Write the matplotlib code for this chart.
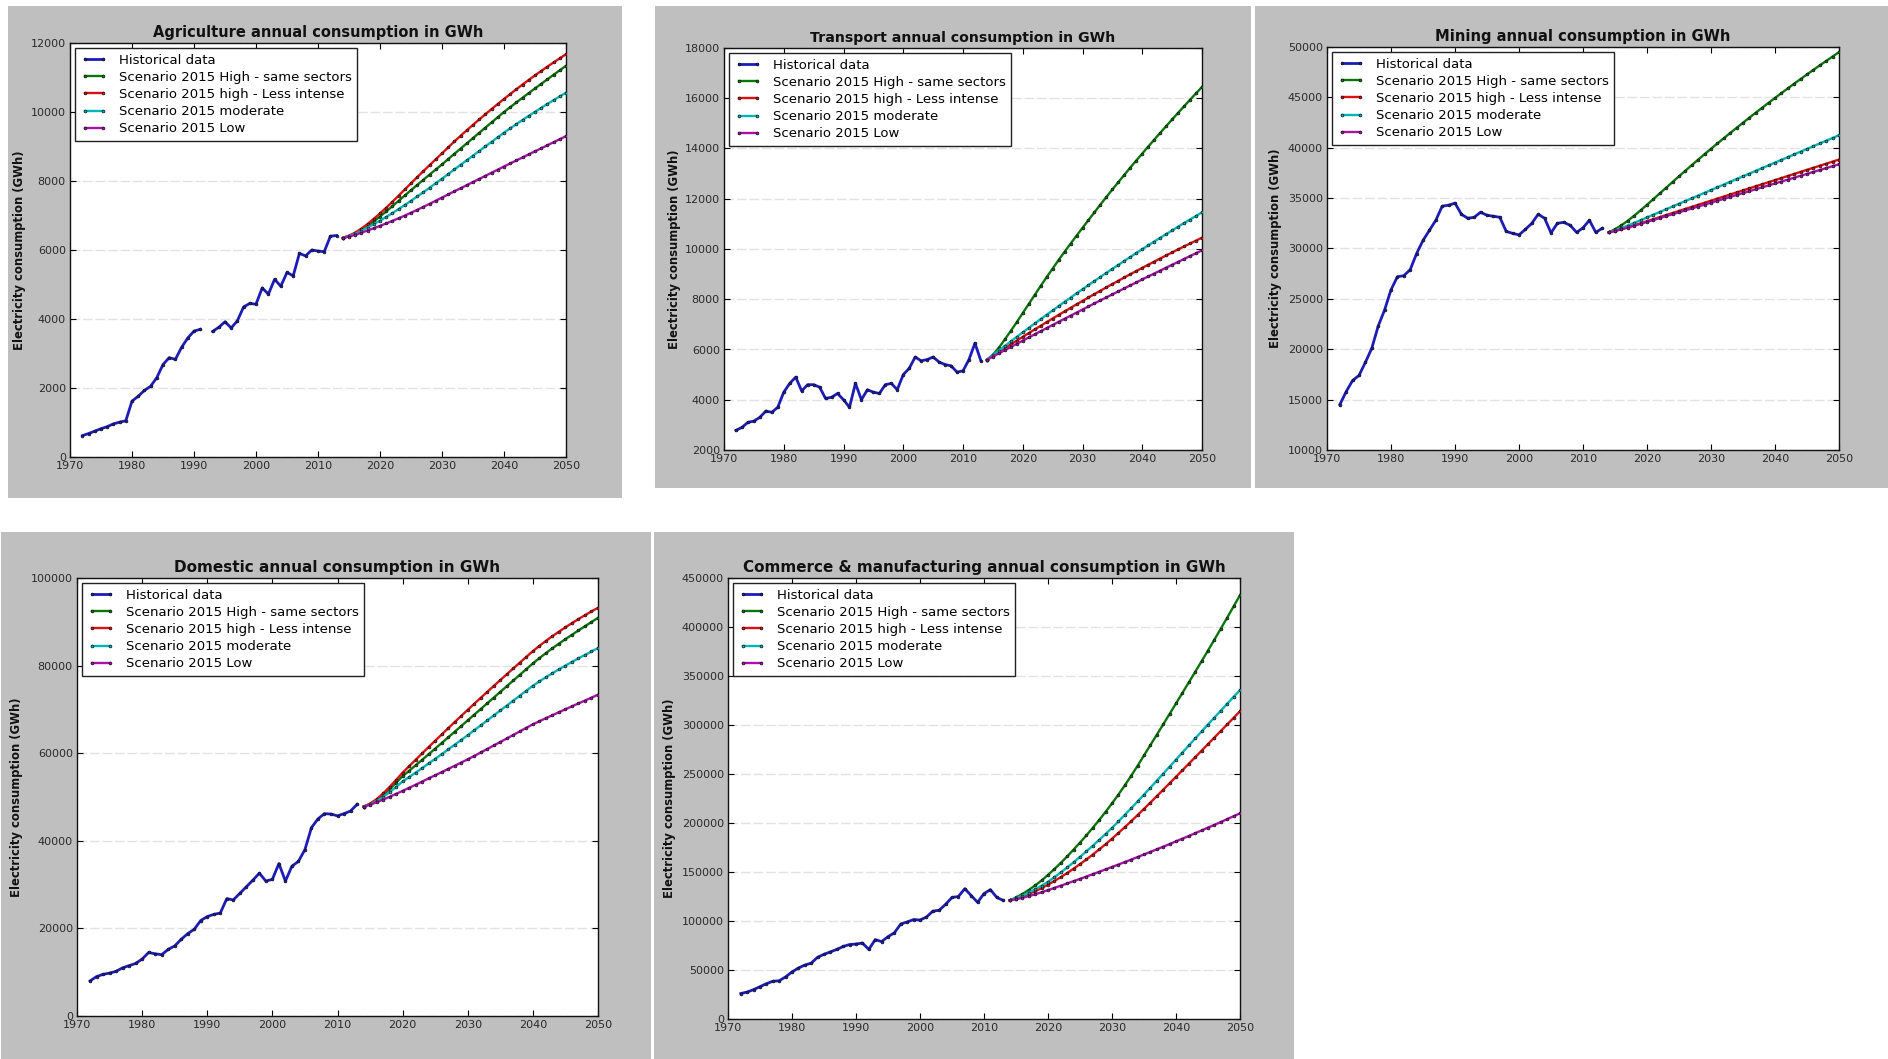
import numpy as np
import matplotlib
matplotlib.use("Agg")
import matplotlib.pyplot as plt
from matplotlib.patches import Rectangle
from matplotlib.ticker import MultipleLocator, FormatStrFormatter

W, H = 1888, 1059
nan = np.nan

hist_years = list(range(1972, 2014))
scen_years = list(range(2014, 2051))

series_labels = [
    "Historical data",
    "Scenario 2015 High - same sectors",
    "Scenario 2015 high - Less intense",
    "Scenario 2015 moderate",
    "Scenario 2015 Low",
]
series_colors = ["#1c1cb8", "#0a760a", "#dc1010", "#00b5b5", "#a812a8"]

# ---------------- Agriculture ----------------
agri_hist = [620, 680, 750, 820, 880, 960, 1010, 1050, 1620, 1760,
             1930, 2050, 2300, 2680, 2880, 2830, 3180, 3450, 3650, 3700,
             nan, 3640, 3760, 3920, 3740, 3950, 4350, 4450, 4430, 4900,
             4720, 5150, 4950, 5350, 5250, 5900, 5830, 6000, 5970, 5950,
             6400, 6420]
agri_high_same = [6350, 6405, 6485, 6585, 6700, 6830, 6970, 7118, 7270, 7425,
                  7580, 7734, 7886, 8036, 8186, 8334, 8480, 8634, 8787, 8940,
                  9092, 9244, 9396, 9547, 9698, 9849, 10000, 10140, 10278, 10414,
                  10549, 10683, 10816, 10948, 11079, 11210, 11340]
agri_high_less = [6350, 6415, 6505, 6620, 6755, 6905, 7060, 7225, 7397, 7574,
                  7754, 7934, 8112, 8287, 8459, 8631, 8800, 8975, 9145, 9310,
                  9470, 9628, 9783, 9935, 10085, 10233, 10378, 10520, 10660, 10797,
                  10931, 11062, 11190, 11315, 11437, 11557, 11675]
agri_moderate = [6350, 6400, 6470, 6555, 6650, 6750, 6850, 6958, 7070, 7186,
                 7305, 7427, 7551, 7677, 7805, 7935, 8067, 8200, 8334, 8468,
                 8602, 8736, 8869, 9002, 9135, 9268, 9400, 9526, 9650, 9771,
                 9890, 10006, 10120, 10233, 10344, 10453, 10560]
agri_low = [6350, 6390, 6440, 6500, 6565, 6632, 6700, 6770, 6843, 6919,
            6998, 7080, 7164, 7250, 7338, 7428, 7520, 7610, 7700, 7790,
            7880, 7970, 8060, 8150, 8240, 8330, 8420, 8508, 8596, 8684,
            8772, 8860, 8948, 9036, 9124, 9212, 9300]

# ---------------- Transport ----------------
trans_hist = [2780, 2900, 3100, 3150, 3300, 3550, 3500, 3700, 4300, 4650,
              4900, 4350, 4600, 4600, 4500, 4050, 4100, 4250, 4000, 3700,
              4650, 4000, 4400, 4300, 4250, 4600, 4650, 4400, 5000, 5250,
              5700, 5550, 5600, 5700, 5500, 5400, 5350, 5100, 5150, 5600,
              6250, 5550]
trans_high_same = [5590, 5790, 6070, 6400, 6740, 7090, 7450, 7810, 8170, 8530,
                   8880, 9220, 9560, 9890, 10210, 10530, 10840, 11150, 11460, 11770,
                   12070, 12370, 12660, 12950, 13240, 13520, 13800, 14075, 14350, 14620,
                   14890, 15155, 15420, 15680, 15940, 16195, 16450]
trans_high_less = [5590, 5745, 5899, 6052, 6203, 6354, 6503, 6651, 6798, 6944,
                   7089, 7232, 7375, 7516, 7656, 7795, 7933, 8070, 8205, 8340,
                   8473, 8605, 8736, 8866, 8995, 9122, 9249, 9374, 9498, 9621,
                   9743, 9864, 9983, 10102, 10219, 10335, 10450]
trans_moderate = [5590, 5775, 5959, 6141, 6322, 6502, 6681, 6858, 7035, 7210,
                  7383, 7556, 7727, 7897, 8065, 8233, 8399, 8564, 8727, 8890,
                  9051, 9211, 9369, 9527, 9683, 9838, 9991, 10144, 10295, 10444,
                  10593, 10740, 10886, 11031, 11174, 11317, 11458]
trans_low = [5590, 5718, 5846, 5973, 6100, 6226, 6352, 6478, 6603, 6728,
             6852, 6976, 7100, 7223, 7346, 7468, 7590, 7712, 7833, 7954,
             8074, 8194, 8314, 8433, 8552, 8670, 8788, 8906, 9023, 9140,
             9256, 9372, 9488, 9603, 9718, 9832, 9946]

# ---------------- Mining ----------------
mining_hist = [14500, 15800, 16900, 17400, 18700, 20100, 22300, 23900, 25900, 27200,
               27300, 27900, 29500, 30800, 31800, 32800, 34200, 34300, 34500, 33400,
               33000, 33100, 33600, 33300, 33200, 33100, 31700, 31500, 31350, 31900,
               32500, 33400, 33000, 31550, 32500, 32600, 32300, 31600, 32050, 32800,
               31600, 32000]
mining_high_same = [31600, 31912, 32304, 32756, 33258, 33790, 34342, 34904, 35471, 36038,
                    36605, 37167, 37724, 38276, 38823, 39365, 39897, 40424, 40946, 41463,
                    41975, 42482, 42984, 43481, 43973, 44460, 44942, 45419, 45891, 46358,
                    46820, 47277, 47729, 48176, 48618, 49055, 49487]
mining_high_less = [31600, 31750, 31920, 32105, 32300, 32504, 32708, 32912, 33116, 33320,
                    33524, 33728, 33932, 34136, 34340, 34544, 34748, 34952, 35156, 35360,
                    35564, 35768, 35972, 36176, 36380, 36584, 36788, 36992, 37196, 37400,
                    37604, 37808, 38012, 38216, 38420, 38624, 38828]
mining_moderate = [31600, 31800, 32030, 32280, 32540, 32812, 33084, 33356, 33628, 33900,
                   34172, 34444, 34716, 34988, 35260, 35532, 35804, 36076, 36348, 36620,
                   36892, 37164, 37436, 37708, 37980, 38252, 38524, 38796, 39068, 39340,
                   39612, 39884, 40156, 40428, 40700, 40972, 41244]
mining_low = [31600, 31740, 31900, 32075, 32260, 32451, 32642, 32832, 33023, 33214,
              33405, 33595, 33786, 33977, 34168, 34358, 34549, 34740, 34931, 35121,
              35312, 35503, 35694, 35884, 36075, 36266, 36457, 36647, 36838, 37029,
              37220, 37410, 37601, 37792, 37983, 38173, 38364]

# ---------------- Domestic ----------------
dom_hist = [8000, 9000, 9500, 9800, 10200, 11000, 11500, 12000, 13000, 14500,
            14200, 14000, 15200, 16000, 17500, 18800, 19800, 21800, 22700, 23200,
            23500, 26800, 26500, 28000, 29500, 31000, 32600, 30800, 31200, 34800,
            30800, 34200, 35300, 38000, 43000, 45000, 46200, 46100, 45700, 46200,
            46800, 48300]
dom_high_same = [47800, 48400, 49300, 50450, 51800, 53250, 54750, 55980, 57230, 58490,
                 59760, 61040, 62325, 63615, 64905, 66200, 67500, 68800, 70100, 71400,
                 72700, 74000, 75300, 76600, 77900, 79200, 80500, 81700, 82850, 83950,
                 85010, 86040, 87040, 88020, 88990, 89950, 90900]
dom_high_less = [47800, 48500, 49500, 50800, 52300, 53900, 55550, 57030, 58500, 59960,
                 61410, 62850, 64280, 65700, 67110, 68510, 69900, 71280, 72650, 74010,
                 75360, 76700, 78035, 79365, 80685, 81995, 83300, 84500, 85640, 86720,
                 87750, 88740, 89700, 90620, 91510, 92370, 93200]
dom_moderate = [47800, 48300, 49050, 50000, 51100, 52300, 53550, 54550, 55570, 56605,
                57655, 58715, 59785, 60860, 61940, 63025, 64120, 65240, 66365, 67495,
                68625, 69755, 70885, 72015, 73145, 74275, 75400, 76400, 77350, 78260,
                79140, 80000, 80840, 81650, 82440, 83220, 84000]
dom_low = [47800, 48250, 48800, 49400, 50050, 50720, 51400, 52100, 52810, 53525,
           54245, 54965, 55685, 56410, 57135, 57865, 58600, 59380, 60170, 60965,
           61765, 62565, 63370, 64175, 64985, 65795, 66600, 67300, 67990, 68675,
           69355, 70030, 70700, 71365, 72030, 72690, 73350]

# ---------------- Commerce & manufacturing ----------------
com_hist = [26000, 27500, 30000, 33000, 36000, 38500, 39000, 43000, 48000, 52000,
            55000, 57000, 63000, 66000, 68500, 71000, 74000, 76000, 76500, 77500,
            71000, 81000, 79000, 84000, 88000, 97000, 99000, 101500, 101000, 104000,
            110000, 111000, 117000, 124000, 125000, 133000, 126000, 119000, 128000, 132000,
            124000, 121000]
com_high_same = [121000, 124000, 127600, 131700, 136300, 141400, 147000, 153000, 159300, 165900,
                 172900, 180000, 187400, 195100, 203100, 211400, 220000, 229000, 238400, 248200,
                 258400, 269000, 279500, 290050, 300650, 311300, 322000, 332700, 343450, 354250,
                 365100, 376000, 387100, 398300, 409600, 421000, 432500]
com_high_less = [121000, 122800, 125000, 127600, 130500, 133600, 137000, 140800, 144800, 149000,
                 153400, 158000, 162800, 167800, 173000, 178400, 184000, 189800, 195750, 201850,
                 208100, 214450, 220900, 227400, 233950, 240550, 247150, 253800, 260450, 267100,
                 273800, 280500, 287200, 293900, 300600, 307300, 314000]
com_moderate = [121000, 123200, 125900, 129000, 132400, 136100, 140000, 144600, 149500, 154600,
                159900, 165500, 171100, 176900, 182800, 188800, 195000, 201600, 208300, 215100,
                222000, 229000, 236050, 243150, 250300, 257500, 264700, 271900, 279100, 286250,
                293400, 300500, 307600, 314650, 321700, 328700, 335700]
com_low = [121000, 122200, 123700, 125400, 127300, 129300, 131500, 133750, 136025, 138325,
           140650, 143000, 145375, 147775, 150200, 152650, 155125, 157625, 160150, 162700,
           165275, 167875, 170500, 173150, 175825, 178525, 181250, 184000, 186775, 189575,
           192400, 195250, 198125, 201025, 203950, 206900, 209875]

# Panel layout in pixel coordinates: grey card (x0, y0, x1, y1) and plot area
panels = [
    dict(title="Agriculture annual consumption in GWh",
         data=[agri_hist, agri_high_same, agri_high_less, agri_moderate, agri_low],
         ylim=(0, 12000), ystep=2000,
         card=(8, 6, 622, 498), box=(70, 43, 566, 457),
         title_fs=10.5, ylab_x=26),
    dict(title="Transport annual consumption in GWh",
         data=[trans_hist, trans_high_same, trans_high_less, trans_moderate, trans_low],
         ylim=(2000, 18000), ystep=2000,
         card=(655, 6, 1251, 488), box=(724, 48, 1202, 450),
         title_fs=10.2, ylab_x=681),
    dict(title="Mining annual consumption in GWh",
         data=[mining_hist, mining_high_same, mining_high_less, mining_moderate, mining_low],
         ylim=(10000, 50000), ystep=5000,
         card=(1255, 6, 1888, 488), box=(1327, 47, 1839, 450),
         title_fs=10.6, ylab_x=1282),
    dict(title="Domestic annual consumption in GWh",
         data=[dom_hist, dom_high_same, dom_high_less, dom_moderate, dom_low],
         ylim=(0, 100000), ystep=20000,
         card=(1, 532, 651, 1059), box=(77, 578, 598, 1016),
         title_fs=11.0, ylab_x=23),
    dict(title="Commerce & manufacturing annual consumption in GWh",
         data=[com_hist, com_high_same, com_high_less, com_moderate, com_low],
         ylim=(0, 450000), ystep=50000,
         card=(654, 532, 1294, 1059), box=(728, 578, 1240, 1019),
         title_fs=10.9, ylab_x=676),
]

fig = plt.figure(figsize=(W / 100, H / 100), dpi=100)
fig.patch.set_facecolor("white")


def frac_rect(x0, y0, x1, y1):
    return [x0 / W, 1 - y1 / H, (x1 - x0) / W, (y1 - y0) / H]


for p in panels:
    cx0, cy0, cx1, cy1 = p["card"]
    l, b, w, h = frac_rect(cx0, cy0, cx1, cy1)
    fig.add_artist(Rectangle((l, b), w, h, transform=fig.transFigure,
                             facecolor="#bfbfbf", edgecolor="none", zorder=-5))

    ax = fig.add_axes(frac_rect(*p["box"]))
    ax.set_facecolor("white")

    for i, (vals, lab, col) in enumerate(zip(p["data"], series_labels, series_colors)):
        xs = hist_years if i == 0 else scen_years
        ax.plot(xs, vals, color=col, lw=2.0 if i == 0 else 1.7,
                marker=".", ms=4, mec="#111111", mew=0.5, label=lab,
                zorder=3)

    ax.set_xlim(1970, 2050)
    ax.set_ylim(*p["ylim"])
    ax.xaxis.set_major_locator(MultipleLocator(10))
    ax.yaxis.set_major_locator(MultipleLocator(p["ystep"]))
    ax.yaxis.set_major_formatter(FormatStrFormatter("%d"))
    ax.tick_params(direction="in", length=4, width=0.8, top=True, right=True,
                   labelsize=8, labelcolor="#2a2a2a", pad=3)
    for s in ax.spines.values():
        s.set_linewidth(1.0)
        s.set_color("#111111")

    ax.yaxis.grid(True, color="#e2e2e2", lw=1.0, ls=(0, (7, 2)))
    ax.set_axisbelow(True)

    ax.set_title(p["title"], fontsize=p["title_fs"], fontweight="bold",
                 color="#111111", pad=4)
    ax.set_ylabel("Electricity consumption (GWh)", fontsize=8.4,
                  fontweight="bold", color="#111111")
    bx0, by0, bx1, by1 = p["box"]
    ax.yaxis.set_label_coords((p["ylab_x"] - bx0) / (bx1 - bx0), 0.5)

    leg = ax.legend(loc="upper left", numpoints=2, fontsize=9.5,
                    fancybox=False, framealpha=1.0, edgecolor="#222222",
                    borderaxespad=0.4, borderpad=0.4, labelspacing=0.32,
                    handlelength=2.0, handletextpad=0.9)
    leg.get_frame().set_linewidth(1.0)

fig.savefig("out.png", dpi=100, facecolor=fig.get_facecolor())
